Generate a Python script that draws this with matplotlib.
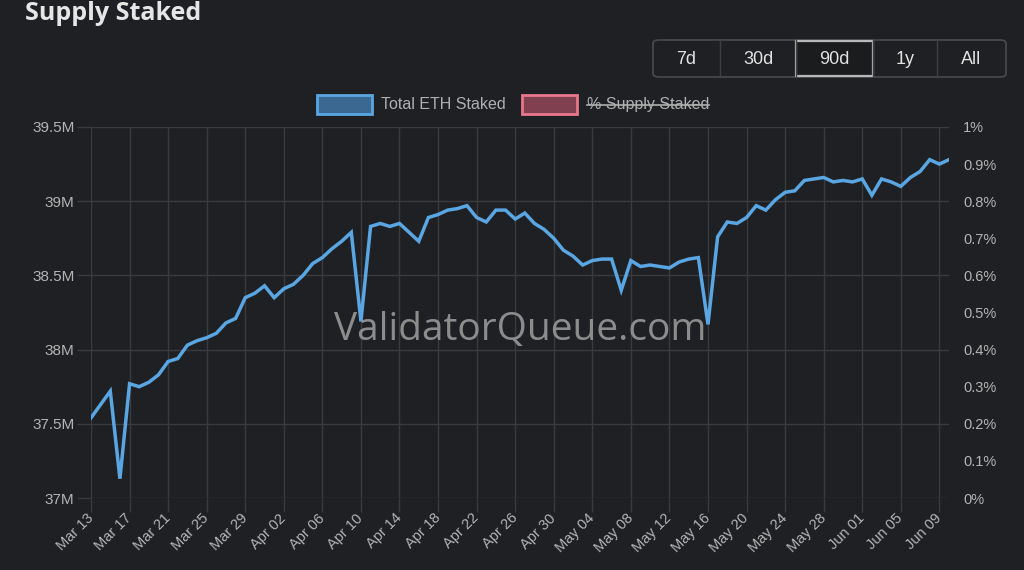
import matplotlib
matplotlib.use("Agg")
import matplotlib.pyplot as plt
from matplotlib.patches import FancyBboxPatch, Rectangle
from matplotlib.lines import Line2D
import numpy as np
import datetime as dt

# ---------------- data ----------------
start_date = dt.date(2024, 3, 13)
total_eth_staked_m = [
    37.54, 37.63, 37.72, 37.13, 37.77, 37.75, 37.78, 37.83, 37.92, 37.94,
    38.03, 38.06, 38.08, 38.11, 38.18, 38.21, 38.35, 38.38, 38.43, 38.35,
    38.41, 38.44, 38.50, 38.58, 38.62, 38.68, 38.73, 38.79, 38.19, 38.83,
    38.85, 38.83, 38.85, 38.79, 38.73, 38.89, 38.91, 38.94, 38.95, 38.97,
    38.89, 38.86, 38.94, 38.94, 38.88, 38.92, 38.85, 38.81, 38.75, 38.67,
    38.63, 38.57, 38.60, 38.61, 38.61, 38.40, 38.60, 38.56, 38.57, 38.56,
    38.55, 38.59, 38.61, 38.62, 38.17, 38.76, 38.86, 38.85, 38.89, 38.97,
    38.94, 39.01, 39.06, 39.07, 39.14, 39.15, 39.16, 39.13, 39.14, 39.13,
    39.15, 39.04, 39.15, 39.13, 39.10, 39.16, 39.20, 39.28, 39.25, 39.28,
]
dates = [start_date + dt.timedelta(days=i) for i in range(len(total_eth_staked_m))]
date_labels = [d.strftime("%b %d") for d in dates]

left_ticks = [37.0, 37.5, 38.0, 38.5, 39.0, 39.5]
left_tick_labels = ["37M", "37.5M", "38M", "38.5M", "39M", "39.5M"]
right_ticks = [0.0, 0.1, 0.2, 0.3, 0.4, 0.5, 0.6, 0.7, 0.8, 0.9, 1.0]
right_tick_labels = ["0%", "0.1%", "0.2%", "0.3%", "0.4%", "0.5%", "0.6%",
                     "0.7%", "0.8%", "0.9%", "1%"]
range_buttons = ["7d", "30d", "90d", "1y", "All"]
active_button = "90d"
legend_labels = ["Total ETH Staked", "% Supply Staked"]

# ---------------- style ----------------
BG = "#1f2023"
GRID = "#3a3b3f"
TICK_TXT = "#b4b4b4"
LINE = "#5aa6e2"
FONT = ["Liberation Sans", "DejaVu Sans"]
TITLE_FONT = ["Open Sans", "DejaVu Sans"]
plt.rcParams["font.family"] = FONT

W, H = 1024, 570
fig = plt.figure(figsize=(W / 100, H / 100), dpi=100, facecolor=BG)

def px(x, y):
    return x / W, 1 - y / H

x0, x1 = 91, 949
y_top, y_bot = 127, 498
ax = fig.add_axes([x0 / W, 1 - y_bot / H, (x1 - x0) / W, (y_bot - y_top) / H])
ax.set_facecolor(BG)
xs = np.arange(len(total_eth_staked_m))
ax.plot(xs, total_eth_staked_m, color=LINE, lw=2.5, solid_joinstyle="miter",
        zorder=3)
ax.set_xlim(0, len(xs) - 1)
ax.set_ylim(37.0, 39.5)
ax.set_yticks(left_ticks)
ax.set_yticklabels(left_tick_labels)
tick_idx = list(range(0, len(xs), 4))
ax.set_xticks(tick_idx)
ax.set_xticklabels([date_labels[i] for i in tick_idx], rotation=45,
                   ha="right", va="center", rotation_mode="anchor")
ax.grid(True, color=GRID, lw=1.0)
ax.set_axisbelow(True)
for s in ax.spines.values():
    s.set_visible(False)
ax.tick_params(axis="y", length=10, width=1, color=GRID, colors=TICK_TXT,
               labelsize=11, pad=2)
ax.tick_params(axis="x", length=10, width=1, color=GRID, colors=TICK_TXT,
               labelsize=10.5, pad=3)
for t in ax.get_yticklabels() + ax.get_xticklabels():
    t.set_color(TICK_TXT)

ax2 = ax.twinx()
ax2.set_ylim(0, 1)
ax2.set_yticks(right_ticks)
ax2.set_yticklabels(right_tick_labels)
for s in ax2.spines.values():
    s.set_visible(False)
ax2.tick_params(axis="y", length=0, colors=TICK_TXT, labelsize=10.5, pad=10)

# watermark (behind the line)
ax.text(0.5, 1 - (330 - y_top) / (y_bot - y_top), "ValidatorQueue.com",
        transform=ax.transAxes, color="#8c8c8c", fontsize=28,
        family=TITLE_FONT, ha="center", va="center", zorder=2)

# title
fig.text(*px(25, 13), "Supply Staked", color="#e6e6e6", fontsize=18,
         fontweight="bold", family=TITLE_FONT, ha="left", va="center")

# range buttons
bx = [653, 720, 796, 873, 937, 1006]
by0, by1 = 40, 77
fig.patches.append(FancyBboxPatch(px(bx[0], by1), (bx[-1] - bx[0]) / W,
                                  (by1 - by0) / H,
                                  boxstyle="round,pad=0,rounding_size=0.006",
                                  transform=fig.transFigure, fc=BG,
                                  ec="#4a4b4f", lw=1.2))
for i, lab in enumerate(range_buttons):
    cx = (bx[i] + bx[i + 1]) / 2
    if 0 < i:
        fig.lines.append(Line2D([bx[i] / W] * 2, [1 - by0 / H, 1 - by1 / H],
                                transform=fig.transFigure, color="#3e3f43",
                                lw=1))
    if lab == active_button:
        fig.patches.append(Rectangle(px(bx[i], by1 - 1), (bx[i + 1] - bx[i]) / W,
                                     (by1 - by0 - 2) / H,
                                     transform=fig.transFigure, fc="#1b1c1e",
                                     ec="#b8b8b8", lw=1.6))
    fig.text(*px(cx, 59), lab, color="#e2e2e2", fontsize=13,
             ha="center", va="center")

# legend
leg_colors = [("#5aa6e2", "#3a6890"), ("#e8768c", "#80404f")]
leg_box_x = [317, 522]
leg_txt_x = [381, 587]
for i, lab in enumerate(legend_labels):
    ec, fc = leg_colors[i]
    fig.patches.append(Rectangle(px(leg_box_x[i], 114), 55 / W, 19 / H,
                                 transform=fig.transFigure, fc=fc, ec=ec,
                                 lw=2))
    t = fig.text(*px(leg_txt_x[i], 104.5), lab, color="#b0b0b0", fontsize=11.5,
                 ha="left", va="center")
    if i == 1:
        fig.canvas.draw()
        bb = t.get_window_extent(fig.canvas.get_renderer())
        yy = (bb.y0 + bb.y1) / 2
        fig.lines.append(Line2D([bb.x0 / W, bb.x1 / W], [yy / H, yy / H],
                                transform=fig.transFigure, color="#b0b0b0",
                                lw=1.2))

fig.savefig("out.png", dpi=100, facecolor=BG)
